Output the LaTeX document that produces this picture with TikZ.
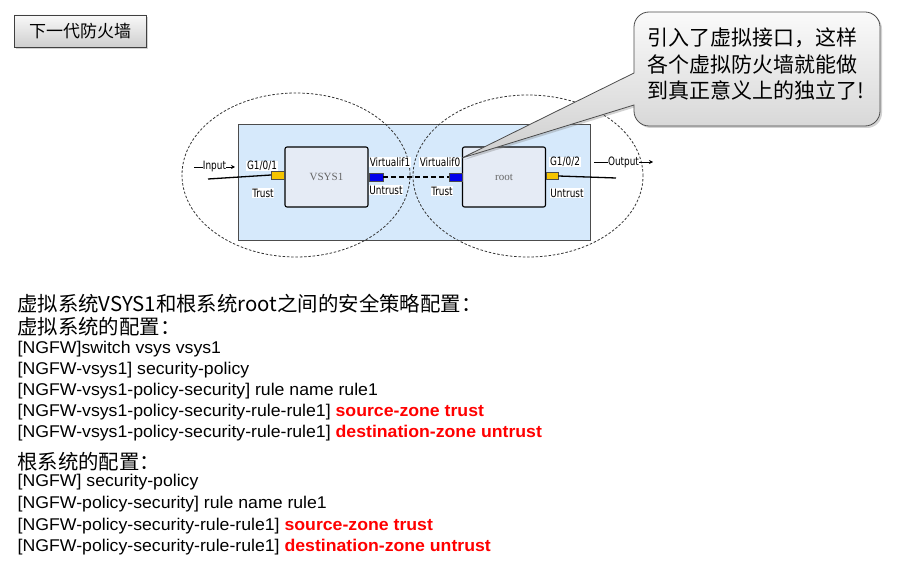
\documentclass[tikz,border=0pt]{standalone}
\usepackage{fontspec}
\setmainfont[FakeStretch=1.04]{Liberation Sans}
\newfontfamily\cjk{Noto Sans CJK SC}
\newfontfamily\lblfont[FakeStretch=0.86]{DejaVu Sans Condensed}
\newfontfamily\serifb{Liberation Serif}
\usetikzlibrary{shadows,arrows.meta,shapes.geometric}
\definecolor{panelblue}{RGB}{214,233,251}
\definecolor{boxfill}{RGB}{229,235,245}
\definecolor{portyellow}{RGB}{245,196,0}
\definecolor{portblue}{RGB}{0,0,235}
\definecolor{cfgred}{RGB}{255,0,0}
\tikzset{
  lbl/.style={font=\lblfont\fontsize{11.5}{12}\selectfont, fill=white, inner sep=0.6pt},
  sysbox/.style={draw=black, line width=1.1pt, fill=boxfill, rounded corners=2pt, minimum width=83pt, minimum height=60pt, font=\serifb\fontsize{11}{12}\selectfont, text=black!60},
  port/.style={draw=black!70, line width=0.4pt, minimum width=13pt, minimum height=8pt, inner sep=0pt},
  zone/.style={draw=black!80, dashed, dash pattern=on 2.5pt off 1.8pt, line width=0.8pt, ellipse, inner sep=0pt},
  cfg/.style={anchor=base west, inner sep=0pt, font=\fontsize{17}{20}\selectfont},
  cjkline/.style={anchor=base west, inner sep=0pt, font=\cjk\fontsize{20.4}{23}\selectfont}
}
\begin{document}
\begin{tikzpicture}[x=1pt,y=-1pt]
\useasboundingbox (0,0) rectangle (897,564);
\fill[white] (0,0) rectangle (897,564);

% title
\node[draw=black!75, line width=0.8pt, top color=gray!5, bottom color=gray!38,
      minimum width=132pt, minimum height=32pt, inner sep=0pt,
      drop shadow={opacity=0.35, shadow xshift=2pt, shadow yshift=-2pt},
      font=\cjk\fontsize{17}{20}\selectfont] (title) at (80,31) {下一代防火墙};

% panel
\node[draw=black!70, line width=0.8pt, fill=panelblue, minimum width=352pt, minimum height=116pt, inner sep=0pt] (panel) at (414,182) {};

% boxes
\node[sysbox] (vsys) at (326.5,177) {VSYS1};
\node[sysbox] (root) at (504,177) {root};

% ports
\node[port, fill=portyellow, anchor=east] (p1) at ([yshift=2pt]vsys.west) {};
\node[port, fill=portblue, anchor=west, minimum width=14pt] (p2) at (vsys.east) {};
\node[port, fill=portblue, anchor=east] (p3) at (root.west) {};
\node[port, fill=portyellow, anchor=west, minimum width=12pt, minimum height=7pt] (p4) at ([yshift=1pt]root.east) {};

% lines
\coordinate (inl) at (208,179);
\coordinate (outr) at (616,178);
\draw[line width=1.3pt] (inl) -- (p1.west);
\draw[line width=1.3pt] (p4.east) -- (outr);
\draw[line width=1.3pt, dash pattern=on 5pt off 3pt] (p2.east) -- (p3.west);

% zones
\node[zone, minimum width=228pt, minimum height=164pt] (z1) at (296,175) {};
\node[zone, minimum width=230pt, minimum height=162pt] (z2) at (528,176) {};

% labels
\node[lbl] (g1) at (262,166) {G1/0/1};
\node[lbl] (t1) at (263,193) {Trust};
\node[lbl] (v1) at (390,162) {Virtualif1};
\node[lbl] (u1) at (386,190) {Untrust};
\node[lbl] (v0) at (440,162) {Virtualif0};
\node[lbl] (t0) at (442,191) {Trust};
\node[lbl] (g2) at (565,162) {G1/0/2};
\node[lbl] (u2) at (567,193) {Untrust};

\coordinate (ia) at (194,167);
\coordinate (ib) at (235,167);
\draw[line width=0.8pt, -{Stealth[length=4pt,width=4pt]}] (ia) -- node[lbl, inner sep=0.3pt] (inp) {Input} (ib);
\coordinate (oa) at (594,162);
\coordinate (ob) at (653,162);
\draw[line width=0.8pt, -{Stealth[length=4pt,width=4pt]}] (oa) -- node[lbl, inner sep=0.3pt] (outp) {Output} (ob);

% callout
\coordinate (apex) at (462,158);
\path[draw=black!70, line width=0.8pt, top color=gray!4, bottom color=gray!38,
      drop shadow={opacity=0.35, shadow xshift=2pt, shadow yshift=-2pt},
      rounded corners=15pt]
  (634,73) -- (634,12) -- (880,12) -- (880,126) -- (634,126) [sharp corners] -- (634,105) -- (apex) -- cycle;
\node[anchor=west, align=left, inner sep=0pt, font=\cjk\fontsize{21}{26.5}\selectfont] (ctext) at (647,64)
  {引入了虚拟接口，这样\\各个虚拟防火墙就能做\\到真正意义上的独立了!};

% text
\node[cjkline] (h1) at (17,311) {虚拟系统VSYS1和根系统root之间的安全策略配置：};
\node[cjkline] (h2) at (17,334) {虚拟系统的配置：};
\node[cfg] (a1) at (17.5,353.3) {[NGFW]switch vsys vsys1};
\node[cfg] (a2) at (17.5,374.3) {[NGFW-vsys1] security-policy};
\node[cfg] (a3) at (17.5,395.3) {[NGFW-vsys1-policy-security] rule name rule1};
\node[cfg] (a4) at (17.5,416.5) {[NGFW-vsys1-policy-security-rule-rule1] \textcolor{cfgred}{\bfseries source-zone trust}};
\node[cfg] (a5) at (17.5,437.5) {[NGFW-vsys1-policy-security-rule-rule1] \textcolor{cfgred}{\bfseries destination-zone untrust}};
\node[cjkline] (h3) at (17,469) {根系统的配置：};
\node[cfg] (b1) at (17.5,486.7) {[NGFW] security-policy};
\node[cfg] (b2) at (17.5,508.3) {[NGFW-policy-security] rule name rule1};
\node[cfg] (b3) at (17.5,530) {[NGFW-policy-security-rule-rule1] \textcolor{cfgred}{\bfseries source-zone trust}};
\node[cfg] (b4) at (17.5,551.7) {[NGFW-policy-security-rule-rule1] \textcolor{cfgred}{\bfseries destination-zone untrust}};
\end{tikzpicture}
\end{document}
